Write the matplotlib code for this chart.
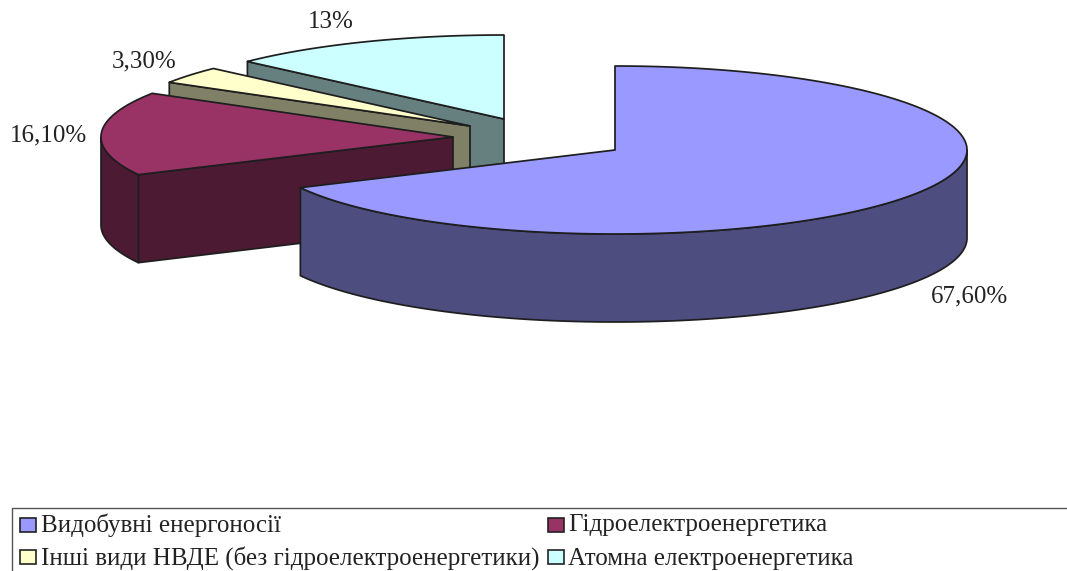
import numpy as np
import matplotlib
matplotlib.use('Agg')
import matplotlib.pyplot as plt
from matplotlib.patches import Polygon, Rectangle

# дані
names = ['Видобувні енергоносії', 'Гідроелектроенергетика',
         'Інші види НВДЕ (без гідроелектроенергетики)', 'Атомна електроенергетика']
values = [67.6, 16.1, 3.3, 13.0]
value_labels = ['67,60%', '16,10%', '3,30%', '13%']
colors = ['#9999FF', '#993366', '#FFFFCC', '#CCFFFF']
side_colors = ['#4D4D80', '#4D1A33', '#808066', '#668080']

# розміщення, у пікселях рисунка
centers = [(615, 150), (453, 137), (470, 126), (504, 119)]
label_pos = [(969, 296), (48, 135), (144, 61), (331, 22)]
rx, ry, depth = 352, 84, 88
edge = '#1e1e1e'
lw = 1.25

plt.rcParams['font.family'] = ['Liberation Serif', 'DejaVu Serif']

fig = plt.figure(figsize=(10.67, 5.71), dpi=100)
ax = fig.add_axes([0, 0, 1, 1])
ax.set_xlim(0, 1067)
ax.set_ylim(571, 0)
ax.axis('off')


def arc(c, a0, a1, dy=0):
    # кути за годинниковою стрілкою від верхньої точки
    t = np.radians(np.linspace(a0, a1, 200))
    return np.column_stack([c[0] + rx * np.sin(t), c[1] - ry * np.cos(t) + dy])


shares = np.array(values) / sum(values) * 360
starts = np.concatenate([[0], np.cumsum(shares)[:-1]])

# від задніх секторів до передніх
for i in range(len(values) - 1, -1, -1):
    c = centers[i]
    a0, a1 = starts[i], starts[i] + shares[i]

    # радіальна грань
    if a0 > 0:
        p = arc(c, a0, a0)[0]
        face = [c, p, (p[0], p[1] + depth), (c[0], c[1] + depth)]
        ax.add_patch(Polygon(face, fc=side_colors[i], ec=edge, lw=lw, joinstyle='round'))

    # зовнішня стінка, лише передня половина
    w0, w1 = max(a0, 90), min(a1, 270)
    if w1 > w0:
        wall = np.vstack([arc(c, w0, w1), arc(c, w1, w0, depth)])
        ax.add_patch(Polygon(wall, fc=side_colors[i], ec=edge, lw=lw, joinstyle='round'))

    # верхня грань
    top = np.vstack([[c], arc(c, a0, a1)])
    ax.add_patch(Polygon(top, fc=colors[i], ec=edge, lw=lw, joinstyle='round'))

for txt, pos in zip(value_labels, label_pos):
    ax.text(pos[0], pos[1], txt, fontsize=18, color='#222222', ha='center', va='center')

# легенда
ax.plot([12, 12, 1067], [575, 507.5, 507.5], color='#555555', lw=1.0, clip_on=False)
swatch_x = [19.5, 547.5, 19.5, 547.5]
swatch_y = [524.5, 524.5, 556.5, 556.5]
text_x = [41, 568, 41, 568]
text_y = [525.5, 525.5, 558.5, 558.5]
for i, name in enumerate(names):
    ax.add_patch(Rectangle((swatch_x[i], swatch_y[i] - 7), 16, 14, fc=colors[i], ec='#222222', lw=1.2))
    ax.text(text_x[i], text_y[i], name, fontsize=18, color='#222222', ha='left', va='center')

fig.savefig('out.png', dpi=100)
